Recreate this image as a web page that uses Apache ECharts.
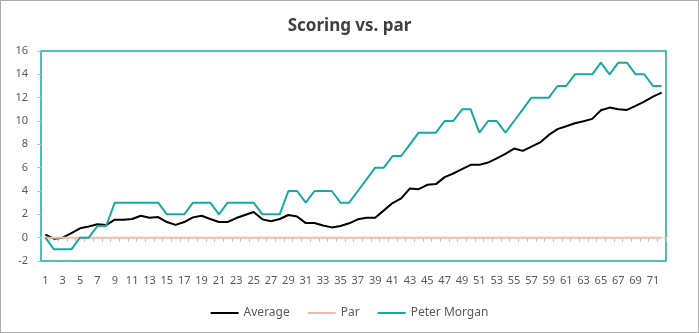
<!DOCTYPE html>
<html>
<head>
<meta charset="utf-8">
<script src="https://cdn.jsdelivr.net/npm/echarts@6/dist/echarts.min.js"></script>
<style>
html,body{margin:0;padding:0;background:#fff;}
#wrap{width:699px;height:333px;box-sizing:border-box;border:1px solid #ABABAB;}
#chart{width:697px;height:331px;}
</style>
</head>
<body>
<div id="wrap"><div id="chart"></div></div>
<script>
const categories = Array.from({length: 72}, (_, i) => String(i + 1));
const average = [0.26,-0.09,0.0,0.38,0.8,0.95,1.15,1.08,1.54,1.54,1.6,1.88,1.71,1.77,1.34,1.1,1.34,1.74,1.88,1.6,1.34,1.34,1.68,1.94,2.2,1.57,1.4,1.6,1.94,1.82,1.25,1.25,1.05,0.88,1.0,1.23,1.57,1.71,1.71,2.34,2.97,3.36,4.22,4.16,4.53,4.59,5.19,5.5,5.87,6.24,6.24,6.44,6.79,7.19,7.64,7.44,7.8,8.16,8.81,9.3,9.55,9.81,9.98,10.18,10.92,11.15,11.0,10.95,11.29,11.66,12.09,12.43];
const par = Array.from({length: 72}, () => 0);
const peterMorgan = [0,-1,-1,-1,0,0,1,1,3,3,3,3,3,3,2,2,2,3,3,3,2,3,3,3,3,2,2,2,4,4,3,4,4,4,3,3,4,5,6,6,7,7,8,9,9,9,10,10,11,11,9,10,10,9,10,11,12,12,12,13,13,14,14,14,15,14,15,15,14,14,13,13];
const yTicks = {min: -2, max: 16, interval: 2};

const teal = '#17AAA4';
const salmon = '#F5B8A6';
const font = 'Noto Sans';

const chart = echarts.init(document.getElementById('chart'));
chart.setOption({
  animation: false,
  title: {
    text: 'Scoring vs. par',
    left: 'center',
    top: 12,
    textStyle: {fontFamily: font, fontSize: 17, fontWeight: 'bold', color: '#404040'}
  },
  legend: {
    bottom: 8,
    left: 'center',
    icon: 'rect',
    itemWidth: 28,
    itemHeight: 2,
    itemGap: 18,
    textStyle: {fontFamily: font, fontSize: 12, color: '#595959'},
    data: ['Average', 'Par', 'Peter Morgan']
  },
  grid: {
    left: 40, right: 32, top: 50, bottom: 71,
    show: true, borderColor: teal, borderWidth: 1.5, containLabel: false
  },
  xAxis: [
    {
      type: 'category', data: categories, position: 'bottom',
      axisLine: {show: false, onZero: false},
      axisTick: {show: false},
      axisLabel: {interval: 1, margin: 14, fontFamily: font, fontSize: 11, color: '#595959'},
      splitLine: {show: false}
    },
    {
      type: 'category', data: categories, position: 'top',
      axisLine: {show: true, onZero: true, lineStyle: {color: '#D9D9D9', width: 1}},
      axisTick: {show: true, inside: true, length: 4, interval: 0, lineStyle: {color: '#BFBFBF'}},
      axisLabel: {show: false},
      splitLine: {show: false}
    }
  ],
  yAxis: {
    type: 'value', min: yTicks.min, max: yTicks.max, interval: yTicks.interval,
    axisLine: {show: false},
    axisTick: {show: true, length: 4, lineStyle: {color: '#BFBFBF'}},
    axisLabel: {margin: 13, fontFamily: font, fontSize: 11, color: '#595959'},
    splitLine: {show: false}
  },
  series: [
    {name: 'Average', type: 'line', data: average, symbol: 'none', xAxisIndex: 0,
     itemStyle: {color: '#000000'}, lineStyle: {color: '#000000', width: 2}},
    {name: 'Par', type: 'line', data: par, symbol: 'none', xAxisIndex: 0,
     itemStyle: {color: salmon}, lineStyle: {color: salmon, width: 2}},
    {name: 'Peter Morgan', type: 'line', data: peterMorgan, symbol: 'none', xAxisIndex: 0,
     itemStyle: {color: teal}, lineStyle: {color: teal, width: 2}}
  ]
});
</script>
</body>
</html>
